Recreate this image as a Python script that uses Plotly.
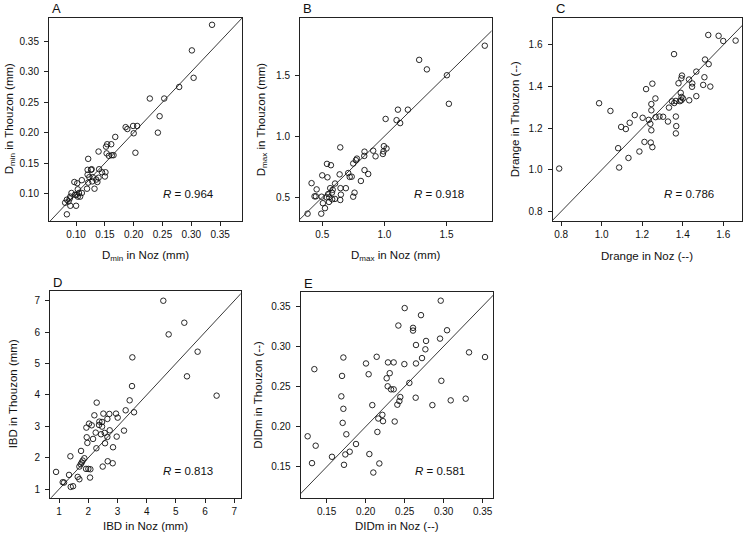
import plotly.graph_objects as go

# ---------------- data ----------------
A_noz = [0.336, 0.301, 0.304, 0.279, 0.253, 0.228, 0.245, 0.242, 0.203, 0.200, 0.206, 0.199, 0.186, 0.189,
         0.168, 0.154, 0.161, 0.152, 0.139, 0.153, 0.157, 0.162, 0.165, 0.121, 0.140, 0.127, 0.126, 0.120,
         0.145, 0.151, 0.150, 0.139, 0.135, 0.129, 0.123, 0.120, 0.110, 0.137, 0.128, 0.121, 0.132, 0.119,
         0.097, 0.102, 0.103, 0.110, 0.105, 0.101, 0.103, 0.098, 0.092, 0.090, 0.084, 0.087, 0.081, 0.090,
         0.100, 0.084, 0.089, 0.107]
A_thz = [0.377, 0.335, 0.290, 0.275, 0.256, 0.256, 0.227, 0.200, 0.167, 0.199, 0.211, 0.211, 0.209, 0.206,
         0.193, 0.181, 0.181, 0.177, 0.169, 0.166, 0.162, 0.163, 0.163, 0.157, 0.140, 0.140, 0.139, 0.139,
         0.135, 0.135, 0.128, 0.126, 0.123, 0.127, 0.127, 0.131, 0.122, 0.119, 0.120, 0.118, 0.108, 0.108,
         0.119, 0.117, 0.107, 0.101, 0.101, 0.098, 0.095, 0.098, 0.101, 0.095, 0.090, 0.087, 0.085, 0.080,
         0.080, 0.066, 0.092, 0.095]

B_noz = [1.808, 1.280, 1.342, 1.503, 1.519, 1.109, 1.189, 1.098, 1.127, 1.010, 0.645, 0.840, 0.910, 0.996,
         1.017, 0.993, 0.988, 0.929, 0.838, 0.779, 0.771, 0.749, 0.538, 0.570, 0.840, 0.870, 0.811, 0.640,
         0.500, 0.542, 0.709, 0.737, 0.721, 0.414, 0.455, 0.603, 0.564, 0.584, 0.647, 0.690, 0.578, 0.650,
         0.760, 0.749, 0.438, 0.449, 0.495, 0.535, 0.556, 0.580, 0.602, 0.645, 0.505, 0.522, 0.492, 0.382,
         0.554, 0.548]
B_thz = [1.742, 1.626, 1.548, 1.500, 1.266, 1.218, 1.218, 1.132, 1.108, 1.142, 0.909, 0.874, 0.882, 0.919,
         0.900, 0.876, 0.855, 0.836, 0.839, 0.817, 0.804, 0.777, 0.774, 0.763, 0.723, 0.691, 0.634, 0.688,
         0.680, 0.664, 0.699, 0.669, 0.667, 0.616, 0.565, 0.613, 0.575, 0.562, 0.575, 0.575, 0.538, 0.522,
         0.538, 0.505, 0.508, 0.508, 0.505, 0.500, 0.500, 0.484, 0.487, 0.478, 0.452, 0.411, 0.366, 0.366,
         0.462, 0.527]

C_noz = [0.790, 0.987, 1.043, 1.081, 1.086, 1.096, 1.119, 1.138, 1.132, 1.163, 1.186, 1.202, 1.211, 1.219,
         1.232, 1.250, 1.245, 1.245, 1.240, 1.245, 1.242, 1.250, 1.265, 1.266, 1.285, 1.303, 1.327, 1.332,
         1.347, 1.358, 1.366, 1.357, 1.368, 1.366, 1.366, 1.379, 1.390, 1.394, 1.393, 1.401, 1.396, 1.393,
         1.431, 1.432, 1.447, 1.446, 1.467, 1.467, 1.507, 1.501, 1.510, 1.528, 1.536, 1.526, 1.577, 1.600,
         1.661, 1.386]
C_thz = [1.006, 1.320, 1.283, 1.104, 1.011, 1.206, 1.196, 1.226, 1.057, 1.263, 1.088, 1.250, 1.134, 1.388,
         1.240, 1.414, 1.316, 1.286, 1.221, 1.190, 1.131, 1.109, 1.343, 1.253, 1.256, 1.255, 1.232, 1.299,
         1.329, 1.321, 1.331, 1.556, 1.210, 1.175, 1.256, 1.416, 1.370, 1.350, 1.334, 1.343, 1.453, 1.440,
         1.434, 1.334, 1.415, 1.399, 1.472, 1.354, 1.445, 1.408, 1.530, 1.508, 1.400, 1.648, 1.644, 1.619,
         1.621, 1.330]

D_noz = [4.570, 5.289, 4.753, 5.745, 3.510, 5.380, 6.395, 3.498, 3.418, 2.289, 3.567, 3.281, 2.951, 3.008,
         2.722, 2.517, 2.209, 2.380, 2.472, 2.654, 2.027, 2.118, 1.935, 2.369, 2.472, 2.255, 2.437, 2.563,
         2.734, 3.224, 1.947, 1.970, 2.164, 2.654, 2.974, 2.574, 2.278, 2.848, 1.753, 1.388, 1.867, 1.810,
         1.776, 1.741, 1.696, 2.666, 2.837, 2.495, 1.924, 2.004, 2.072, 2.061, 1.639, 1.696, 1.342, 0.897,
         1.125, 1.171, 1.399, 1.479]
D_thz = [7.000, 6.300, 5.929, 5.378, 5.198, 4.594, 3.979, 4.283, 3.830, 3.756, 3.449, 3.512, 3.406, 3.279,
         3.396, 3.406, 3.353, 3.152, 3.141, 3.237, 3.088, 3.035, 2.961, 3.046, 2.993, 2.802, 2.749, 2.792,
         2.876, 2.866, 2.654, 2.474, 2.601, 2.664, 2.675, 2.463, 2.304, 2.336, 2.219, 2.049, 1.986, 1.912,
         1.848, 1.795, 1.721, 1.890, 1.827, 1.721, 1.647, 1.647, 1.636, 1.371, 1.392, 1.318, 1.456, 1.551,
         1.223, 1.212, 1.074, 1.095]

E_noz = [0.2962, 0.2500, 0.2709, 0.2419, 0.2607, 0.2607, 0.3043, 0.2953, 0.2774, 0.2645, 0.2765, 0.2722,
         0.3325, 0.3530, 0.1714, 0.2141, 0.2004, 0.2286, 0.2359, 0.2496, 0.2645, 0.1342, 0.2038, 0.2308,
         0.2269, 0.1697, 0.2560, 0.2282, 0.2325, 0.2359, 0.2970, 0.1688, 0.2641, 0.2444, 0.2432, 0.2406,
         0.2085, 0.2855, 0.3090, 0.3282, 0.1714, 0.2372, 0.2214, 0.2222, 0.2162, 0.2150, 0.1705, 0.1752,
         0.1256, 0.1359, 0.1876, 0.1795, 0.1739, 0.1568, 0.2047, 0.1312, 0.1722, 0.2175, 0.2098]
E_thz = [0.3567, 0.3475, 0.3387, 0.3258, 0.3229, 0.3195, 0.3199, 0.3095, 0.3066, 0.3016, 0.2962, 0.2853,
         0.2924, 0.2866, 0.2860, 0.2869, 0.2786, 0.2799, 0.2799, 0.2778, 0.2786, 0.2715, 0.2652, 0.2665,
         0.2602, 0.2631, 0.2544, 0.2502, 0.2464, 0.2464, 0.2570, 0.2377, 0.2360, 0.2368, 0.2318, 0.2273,
         0.2268, 0.2268, 0.2327, 0.2348, 0.2222, 0.2064, 0.2147, 0.2068, 0.2101, 0.1934, 0.2047, 0.1905,
         0.1880, 0.1763, 0.1784, 0.1688, 0.1654, 0.1625, 0.1659, 0.1546, 0.1525, 0.1542, 0.1429]

R_values = ["0.964", "0.918", "0.786", "0.813", "0.581"]
panel_letters = ["A", "B", "C", "D", "E"]

A_ticks = [0.10, 0.15, 0.20, 0.25, 0.30, 0.35]
A_ticktext = ["0.10", "0.15", "0.20", "0.25", "0.30", "0.35"]
B_ticks = [0.5, 1.0, 1.5]
B_ticktext = ["0.5", "1.0", "1.5"]
C_ticks = [0.8, 1.0, 1.2, 1.4, 1.6]
C_ticktext = ["0.8", "1.0", "1.2", "1.4", "1.6"]
D_ticks = [1, 2, 3, 4, 5, 6, 7]
D_ticktext = ["1", "2", "3", "4", "5", "6", "7"]
E_ticks = [0.15, 0.20, 0.25, 0.30, 0.35]
E_ticktext = ["0.15", "0.20", "0.25", "0.30", "0.35"]

SUBMIN = "<sub><span style='color:#111111'>min</span></sub>"
SUBMAX = "<sub><span style='color:#111111'>max</span></sub>"
x_titles = ["D" + SUBMIN + " in Noz (mm)", "D" + SUBMAX + " in Noz (mm)", "Drange in Noz (--)",
            "IBD in Noz (mm)", "DIDm in Noz (--)"]
y_titles = ["D" + SUBMIN + " in Thouzon (mm)", "D" + SUBMAX + " in Thouzon (mm)", "Drange in Thouzon (--)",
            "IBD in Thouzon (mm)", "DIDm in Thouzon (--)"]

# ---------------- layout geometry (pixels) ----------------
W, H = 745, 539
boxes = [  # x0, x1, y0(top), y1(bottom)
    (49, 242, 17.5, 221),
    (300, 491.5, 17.5, 221),
    (552.5, 742.3, 17.5, 221),
    (50, 240.7, 291, 497.7),
    (300.7, 493.3, 292, 497.7),
]
xranges = [(0.053, 0.388), (0.321, 1.862), (0.757, 1.694), (0.69, 7.22), (0.1167, 0.3636)]
yranges = [(0.055, 0.389), (0.306, 1.973), (0.754, 1.732), (0.73, 7.31), (0.1116, 0.3675)]
ytitle_x = [10, 262, 515, 13, 258]
xtitle_y = [256, 256, 256, 526, 526]

def px(x):
    return x / W

def py(y):
    return 1 - y / H

FONT = "Liberation Sans, Arial, Helvetica, sans-serif"
TXT = "#111111"

panels = [
    (A_noz, A_thz, A_ticks, A_ticktext),
    (B_noz, B_thz, B_ticks, B_ticktext),
    (C_noz, C_thz, C_ticks, C_ticktext),
    (D_noz, D_thz, D_ticks, D_ticktext),
    (E_noz, E_thz, E_ticks, E_ticktext),
]

fig = go.Figure()
annotations = []
layout_axes = {}

for i, (xs, ys, tv, tt) in enumerate(panels):
    n = "" if i == 0 else str(i + 1)
    xa, ya = "x" + n, "y" + n
    x0, x1, yt, yb = boxes[i]
    xr, yr = xranges[i], yranges[i]
    # 1:1 line
    lo = min(xr[0], yr[0]) - 1
    hi = max(xr[1], yr[1]) + 1
    fig.add_trace(go.Scatter(x=[lo, hi], y=[lo, hi], mode="lines",
                             line=dict(color="#222222", width=0.9),
                             xaxis=xa, yaxis=ya, showlegend=False, hoverinfo="skip"))
    fig.add_trace(go.Scatter(x=xs, y=ys, mode="markers",
                             marker=dict(symbol="circle-open", size=5.5, color="#111111",
                                         line=dict(width=0.9, color="#111111")),
                             xaxis=xa, yaxis=ya, showlegend=False, cliponaxis=False))
    common = dict(showline=True, linecolor="#222222", linewidth=1, mirror=True,
                  ticks="outside", ticklen=4, tickwidth=1, tickcolor="#222222",
                  showgrid=False, zeroline=False, tickfont=dict(family=FONT, size=10, color=TXT),
                  tickvals=tv, ticktext=tt)
    layout_axes["xaxis" + n] = dict(common, domain=[px(x0), px(x1)], range=list(xr),
                                    anchor=ya, ticklabelstandoff=0)
    layout_axes["yaxis" + n] = dict(common, domain=[py(yb), py(yt)], range=list(yr),
                                    anchor=xa, ticklabelstandoff=3)
    # axis titles
    annotations.append(dict(text=x_titles[i], x=px((x0 + x1) / 2), y=py(xtitle_y[i]),
                            xref="paper", yref="paper", showarrow=False,
                            xanchor="center", yanchor="middle",
                            font=dict(family=FONT, size=11.5, color=TXT)))
    annotations.append(dict(text=y_titles[i], x=px(ytitle_x[i]), y=py((yt + yb) / 2),
                            xref="paper", yref="paper", showarrow=False, textangle=-90,
                            xanchor="center", yanchor="middle",
                            font=dict(family=FONT, size=11.5, color=TXT)))
    # panel letter
    annotations.append(dict(text=panel_letters[i], x=px(x0 + 1), y=py(yt - 9),
                            xref="paper", yref="paper", showarrow=False,
                            xanchor="left", yanchor="middle",
                            font=dict(family=FONT, size=13, color=TXT)))
    # R value
    annotations.append(dict(text="<i>R</i> = " + R_values[i], x=px(x1 - 26), y=py(yb - 27),
                            xref="paper", yref="paper", showarrow=False,
                            xanchor="right", yanchor="middle",
                            font=dict(family=FONT, size=11.5, color=TXT)))

fig.update_layout(width=W, height=H, margin=dict(l=0, r=0, t=0, b=0),
                  paper_bgcolor="white", plot_bgcolor="white",
                  annotations=annotations, showlegend=False, **layout_axes)

fig.write_html("out.html", config={"displayModeBar": False},
               post_script="document.body.style.margin='0';document.body.style.padding='0';")
